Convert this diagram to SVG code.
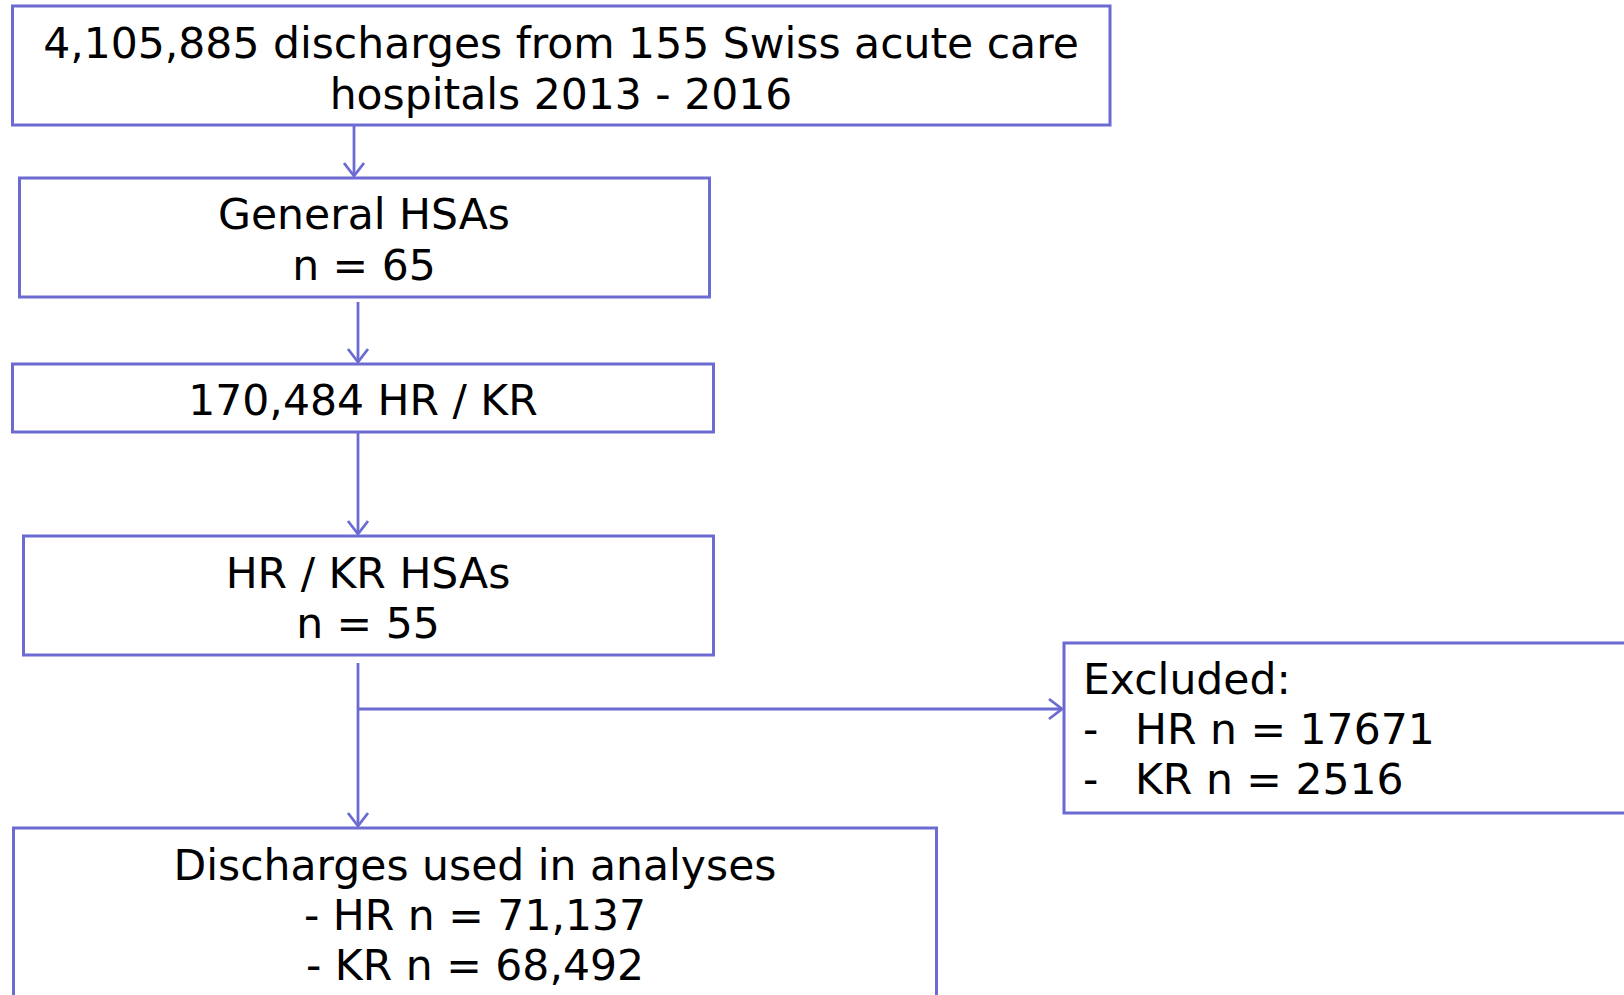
<svg xmlns="http://www.w3.org/2000/svg" width="1624" height="995" viewBox="0 0 1624 995">
<style>
.box{fill:#ffffff;stroke:#6b6bd2;stroke-width:3}
.t{font-family:"DejaVu Sans",Verdana,sans-serif;font-size:42.5px;fill:#000}
.c{text-anchor:middle}
.conn{stroke:#6b6bd2;stroke-width:2.8;fill:none}
</style>
<defs>
<marker id="arr" markerUnits="userSpaceOnUse" markerWidth="24" markerHeight="24" viewBox="-14 -12 16 24" refX="0" refY="0" orient="auto">
<path d="M-13,-10 L0,0 L-13,10" fill="none" stroke="#6b6bd2" stroke-width="2.8"/>
</marker>
</defs>
<rect width="1624" height="995" fill="#ffffff"/>
<g id="connectors">
<line class="conn" x1="354" y1="125" x2="354" y2="176" marker-end="url(#arr)"/>
<line class="conn" x1="358" y1="302" x2="358" y2="362" marker-end="url(#arr)"/>
<line class="conn" x1="358" y1="432" x2="358" y2="534" marker-end="url(#arr)"/>
<line class="conn" x1="358" y1="663" x2="358" y2="826" marker-end="url(#arr)"/>
<line class="conn" x1="358" y1="709" x2="1062" y2="709" marker-end="url(#arr)"/>
</g>
<g id="n1">
<rect class="box" x="12.5" y="6" width="1097.5" height="119"/>
<text class="t c" x="561" y="58">4,105,885 discharges from 155 Swiss acute care</text>
<text class="t c" x="561" y="109">hospitals 2013 - 2016</text>
</g>
<g id="n2">
<rect class="box" x="19.5" y="178" width="690" height="119"/>
<text class="t c" x="364" y="229">General HSAs</text>
<text class="t c" x="364" y="280">n = 65</text>
</g>
<g id="n3">
<rect class="box" x="12.5" y="364" width="701" height="68"/>
<text class="t c" x="363" y="415">170,484 HR / KR</text>
</g>
<g id="n4">
<rect class="box" x="23.5" y="536" width="690" height="119"/>
<text class="t c" x="368" y="588">HR / KR HSAs</text>
<text class="t c" x="368" y="638">n = 55</text>
</g>
<g id="n5">
<rect class="box" x="1064" y="643" width="600" height="170"/>
<text class="t" x="1083" y="694">Excluded:</text>
<text class="t" x="1083" y="744">-</text>
<text class="t" x="1135" y="744">HR n = 17671</text>
<text class="t" x="1083" y="794">-</text>
<text class="t" x="1135" y="794">KR n = 2516</text>
</g>
<g id="n6">
<rect class="box" x="13.5" y="828" width="923" height="200"/>
<text class="t c" x="475" y="880">Discharges used in analyses</text>
<text class="t c" x="475" y="930">- HR n = 71,137</text>
<text class="t c" x="475" y="980">- KR n = 68,492</text>
</g>
</svg>
